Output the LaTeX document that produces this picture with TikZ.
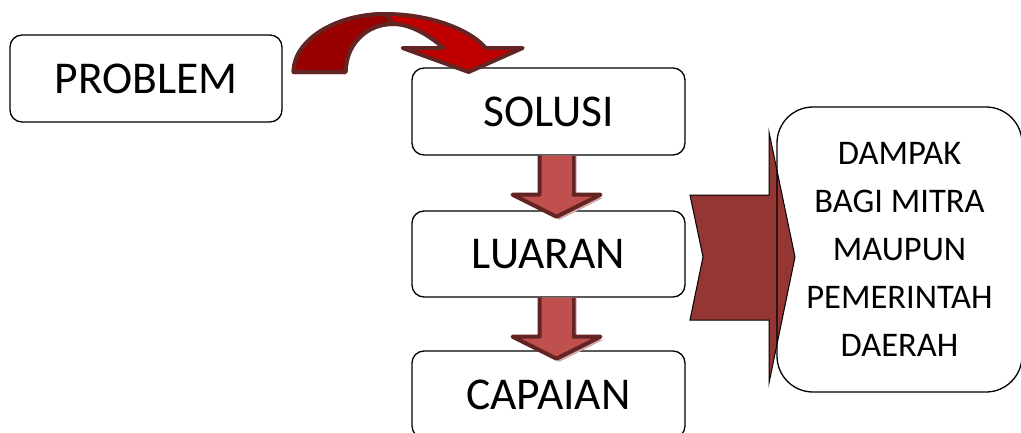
\documentclass[tikz,border=0pt]{standalone}
\usepackage{fontspec}
\setmainfont{Carlito}
\definecolor{arrowline}{HTML}{632523}
\definecolor{brightred}{HTML}{C00000}
\definecolor{darkred}{HTML}{990000}
\definecolor{shaftred}{HTML}{C0504D}
\definecolor{shadowred}{HTML}{D4A3A2}
\definecolor{chevred}{HTML}{943634}
\tikzset{
  box/.style={draw=black, line width=1.3pt, rounded corners=12pt, fill=white,
    inner sep=0pt, font=\fontsize{45.5}{50}\selectfont},
  bigbox/.style={draw=black, line width=1.3pt, rounded corners=36pt,
    inner sep=0pt, align=center, font=\fontsize{34.5}{48}\selectfont},
  fatline/.style={draw=arrowline, line width=4pt, line join=round},
  chev/.style={draw=black, line width=1pt, fill=chevred}
}
\begin{document}
\begin{tikzpicture}[x=1pt,y=-1pt]
\useasboundingbox (0,0) rectangle (1021,432);
\clip (0,0) rectangle (1021,432);
% boxes
\node[box, minimum width=272pt, minimum height=87pt] (problem) at (146,78.5) {PROBLEM};
\node[box, minimum width=273pt, minimum height=87pt] (solusi) at (548.5,111.5) {SOLUSI};
\node[box, minimum width=273pt, minimum height=86pt] (luaran) at (548.5,254) {LUARAN};
\node[box, minimum width=273pt, minimum height=87pt] (capaian) at (548.5,394.5) {CAPAIAN};
% chevron
\draw[chev] (690,195) -- (769,195) -- (769,132) -- (795,257) -- (769,383) -- (769,320) -- (690,320) -- (703,257) -- cycle;
\node[bigbox, minimum width=245pt, minimum height=285pt] (dampak) at (899.5,249.5)
  {DAMPAK\\BAGI MITRA\\MAUPUN\\PEMERINTAH\\DAERAH};
% down arrows
\foreach \src in {solusi, luaran}{
  \begin{scope}[shift={(\src.south)}]
    \fill[shadowred] (-6,0) -- (-6,42) -- (-33,42) -- (11,64) -- (55,42) -- (28,42) -- (28,0) -- cycle;
    \path[fatline, fill=shaftred] (-9,0) -- (-9,39) -- (-36,39) -- (8,61) -- (52,39) -- (25,39) -- (25,0);
    \fill[shaftred] (-7,0) rectangle (23,38);
  \end{scope}
}
% curved arrow
\begin{scope}[shift={(problem.east)}]
  \path[fatline, fill=brightred] (11,-6.5) .. controls (11,-38.5) and (53,-64.5) .. (103,-64.5)
    .. controls (148,-64.5) and (188,-48.5) .. (203,-30.5) -- (240,-30.5) -- (186,-6.5)
    -- (120,-30.5) -- (161,-30.5) .. controls (146,-43.5) and (128,-54.5) .. (110,-54.5)
    .. controls (83,-54.5) and (63,-33.5) .. (63,-6.5) -- cycle;
  \path[fatline, fill=darkred] (11,-6.5) .. controls (11,-38.5) and (53,-64.5) .. (103,-64.5)
    -- (110,-54.5) .. controls (83,-54.5) and (63,-33.5) .. (63,-6.5) -- cycle;
\end{scope}
\end{tikzpicture}
\end{document}
